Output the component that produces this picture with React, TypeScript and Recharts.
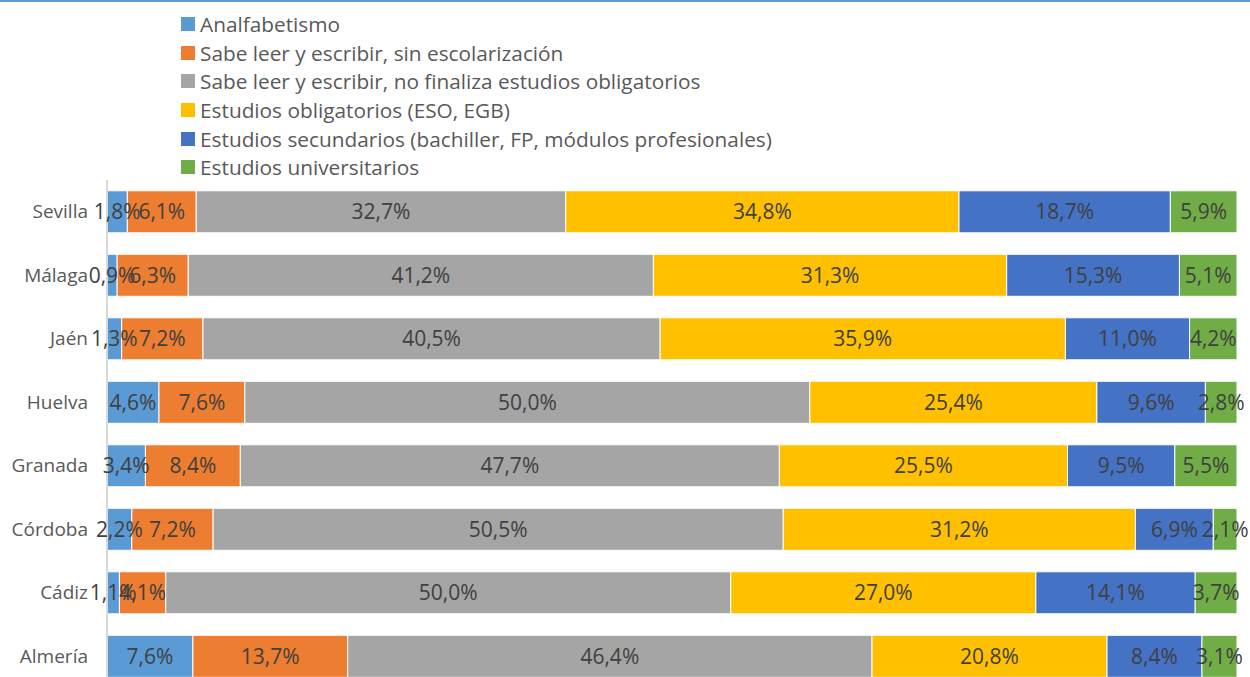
import { BarChart, Bar, XAxis, YAxis, Legend, LabelList } from "recharts";

const provinces = ["Sevilla", "Málaga", "Jaén", "Huelva", "Granada", "Córdoba", "Cádiz", "Almería"];

const analfabetismo = [1.8, 0.9, 1.3, 4.6, 3.4, 2.2, 1.1, 7.6];
const sinEscolarizacion = [6.1, 6.3, 7.2, 7.6, 8.4, 7.2, 4.1, 13.7];
const noFinaliza = [32.7, 41.2, 40.5, 50.0, 47.7, 50.5, 50.0, 46.4];
const obligatorios = [34.8, 31.3, 35.9, 25.4, 25.5, 31.2, 27.0, 20.8];
const secundarios = [18.7, 15.3, 11.0, 9.6, 9.5, 6.9, 14.1, 8.4];
const universitarios = [5.9, 5.1, 4.2, 2.8, 5.5, 2.1, 3.7, 3.1];

const series = [
  { key: "a", name: "Analfabetismo", values: analfabetismo, color: "#5B9BD5" },
  { key: "b", name: "Sabe leer y escribir, sin escolarización", values: sinEscolarizacion, color: "#ED7D31" },
  { key: "c", name: "Sabe leer y escribir, no finaliza estudios obligatorios", values: noFinaliza, color: "#A5A5A5" },
  { key: "d", name: "Estudios obligatorios (ESO, EGB)", values: obligatorios, color: "#FFC000" },
  { key: "e", name: "Estudios secundarios (bachiller, FP, módulos profesionales)", values: secundarios, color: "#4472C4" },
  { key: "f", name: "Estudios universitarios", values: universitarios, color: "#70AD47" },
];

const data = provinces.map((p, i) => {
  const row: any = { name: p };
  series.forEach((s) => {
    row[s.key] = s.values[i];
  });
  return row;
});

const FONT = "'Open Sans', 'Noto Sans', sans-serif";

const fmt = (v: any) => `${Number(v).toFixed(1).replace(".", ",")}%`;

function LegendList() {
  return (
    <div style={{ fontFamily: FONT, fontSize: 20.8, color: "#595959" }}>
      {series.map((s) => (
        <div key={s.key} style={{ display: "flex", alignItems: "center", height: 28.6 }}>
          <div style={{ width: 14, height: 14, background: s.color, marginRight: 5 }} />
          <span>{s.name}</span>
        </div>
      ))}
    </div>
  );
}

export default function App() {
  return (
    <div
      style={{
        position: "absolute",
        left: 0,
        top: 0,
        width: 1250,
        height: 677,
        overflow: "hidden",
        background: "#fff",
        borderTop: "2px solid #5B9BD5",
        boxSizing: "border-box",
      }}
    >
      <div style={{ position: "absolute", left: 0, top: -2 }}>
        <BarChart
          width={1250}
          height={700}
          data={data}
          layout="vertical"
          stackOffset="expand"
          barCategoryGap="17%"
          margin={{ top: 180, right: 13, bottom: 12, left: 0 }}
        >
          <XAxis type="number" domain={[0, 1]} hide />
          <YAxis
            type="category"
            dataKey="name"
            width={107}
            axisLine={{ stroke: "#D9D9D9", strokeWidth: 2 }}
            tickLine={false}
            tickSize={0}
            tickMargin={19}
            tick={{ fill: "#595959", fontSize: 19, fontFamily: FONT }}
          />
          <Legend
            layout="horizontal"
            verticalAlign="middle"
            align="center"
            content={() => <LegendList />}
            wrapperStyle={{ top: 10, left: 181, width: "auto" }}
          />
          {series.map((s) => (
            <Bar
              key={s.key}
              dataKey={s.key}
              name={s.name}
              stackId="1"
              fill={s.color}
              stroke="#FFFFFF"
              strokeWidth={1}
              isAnimationActive={false}
            >
              <LabelList
                dataKey={s.key}
                position="center"
                formatter={fmt}
                fill="#404040"
                style={{ fontSize: 21, fontFamily: FONT }}
              />
            </Bar>
          ))}
        </BarChart>
      </div>
    </div>
  );
}
